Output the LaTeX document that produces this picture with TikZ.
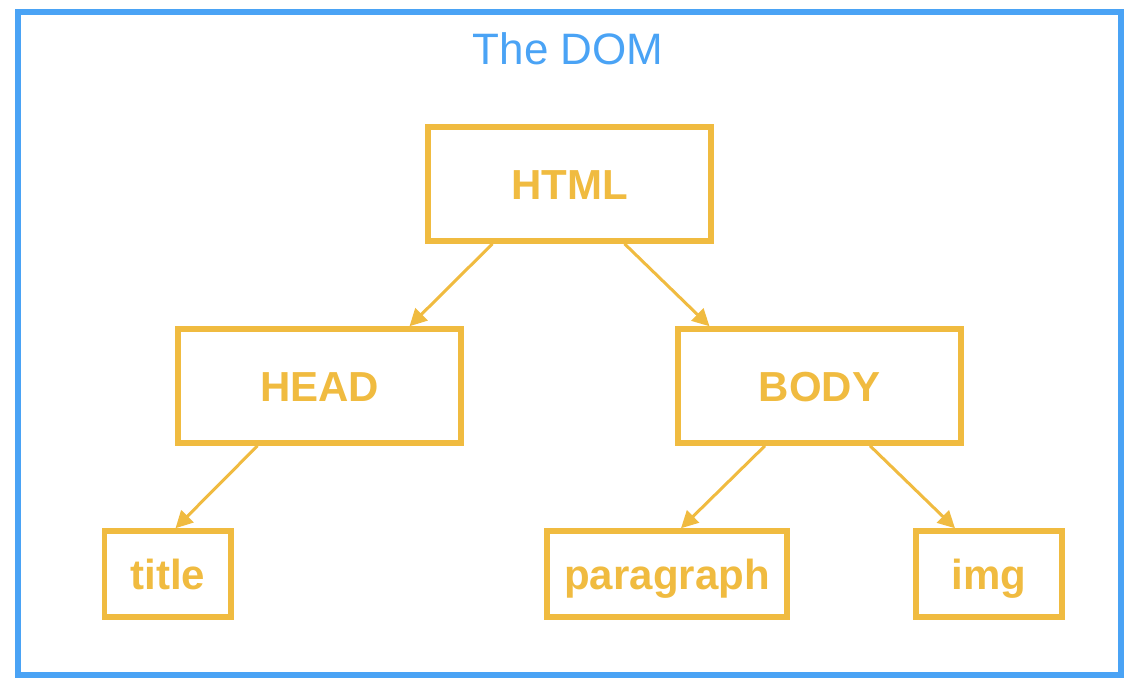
\documentclass[tikz,border=0pt]{standalone}
\usepackage{fontspec}
\setmainfont{Liberation Sans}
\usetikzlibrary{arrows.meta}
\definecolor{domblue}{RGB}{74,163,245}
\definecolor{domyellow}{RGB}{240,187,64}
\begin{document}
\begin{tikzpicture}[x=1pt, y=-1pt,
        tag/.style={draw=domyellow, line width=5.5pt, inner sep=0pt,
            text=domyellow, font=\fontsize{42}{50}\selectfont\bfseries,
            text height=30pt, text depth=0pt},
        big/.style={tag, minimum width=283pt, minimum height=114pt},
        small/.style={tag, minimum height=86pt},
        link/.style={draw=domyellow, line width=3pt,
            -{Triangle[length=17pt, width=17pt]}}]
                        \useasboundingbox (0, 0) rectangle (1138, 686);
                        \draw [domblue, line width=6pt] (18, 11.5) rectangle (1121, 674.5);
                        \node [anchor=base, text=domblue, font=\fontsize{44}{52}\selectfont] at (568, 64) (dom) {The DOM};

                        \node [big] at (569.5, 184) (html) {HTML};
                        \node [big] at (319.5, 386) (head) {HEAD};
                        \node [big] at (819.5, 386) (body) {BODY};
                        \node [small, minimum width=126.5pt] at (167.75, 574) (title) {title};
                        \node [small, minimum width=240.3pt] at (667, 574) (par) {paragraph};
                        \node [small, minimum width=146pt] at (989, 574) (img) {img};

                        \path
                            ([xshift=-77pt]html.south) edge [link] ([xshift=90pt]head.north)
                            ([xshift=55pt]html.south) edge [link] ([xshift=-110pt]body.north)
                            ([xshift=-62pt]head.south) edge [link] ([xshift=7.75pt]title.north)
                            ([xshift=-54.5pt]body.south) edge [link] ([xshift=14pt]par.north)
                            ([xshift=50.5pt]body.south) edge [link] ([xshift=-34pt]img.north);
                    \end{tikzpicture}
\end{document}
